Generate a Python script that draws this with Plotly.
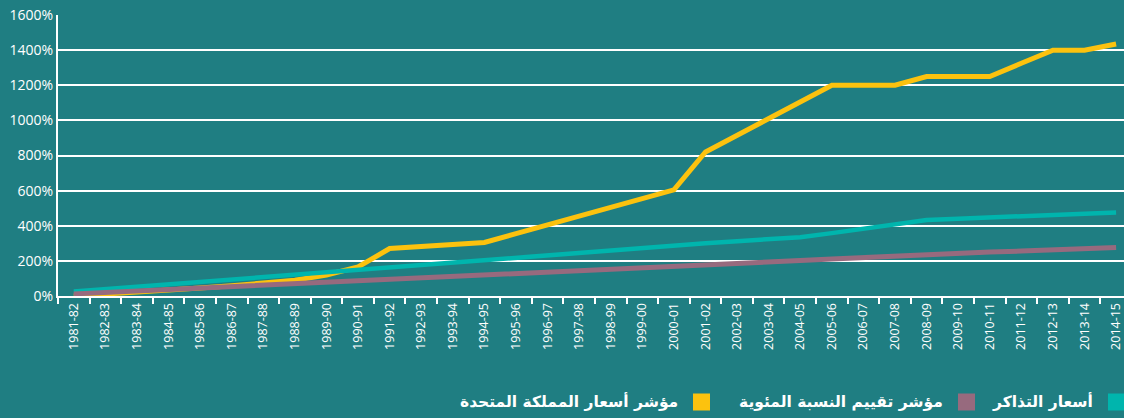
import plotly.graph_objects as go

# Financial years on the category axis
years = [
    "1981-82", "1982-83", "1983-84", "1984-85", "1985-86", "1986-87", "1987-88",
    "1988-89", "1989-90", "1990-91", "1991-92", "1992-93", "1993-94", "1994-95",
    "1995-96", "1996-97", "1997-98", "1998-99", "1999-00", "2000-01", "2001-02",
    "2002-03", "2003-04", "2004-05", "2005-06", "2006-07", "2007-08", "2008-09",
    "2009-10", "2010-11", "2011-12", "2012-13", "2013-14", "2014-15",
]

# Cumulative percentage change since 1981-82
ticket_prices = [
    25, 39, 53, 67, 80, 93, 106, 119, 133, 148, 163, 178, 192, 207,
    221, 235, 249, 262, 275, 288, 300, 312, 324, 335, 358, 383, 408,
    433, 440, 447, 454, 461, 468, 476,
]
rpi_index = [
    12, 20, 28, 36, 44, 52, 60, 69, 78, 86, 94, 102, 110, 118,
    126, 134, 142, 150, 160, 168, 176, 184, 193, 202, 211, 220, 230,
    237, 243, 250, 256, 263, 270, 276,
]
uk_price_index = [
    0, 10, 20, 32, 45, 58, 72, 90, 120, 165, 270, 282, 294, 305,
    355, 405, 455, 505, 555, 604, 820, 915, 1010, 1105, 1200, 1200, 1200,
    1250, 1250, 1250, 1325, 1400, 1400, 1435,
]

series_names = ["أسعار التذاكر", "مؤشر تقييم النسبة المئوية", "مؤشر أسعار المملكة المتحدة"]
series_colors = ["#00b5ad", "#976a7e", "#fcc20e"]
y_ticks = [0, 200, 400, 600, 800, 1000, 1200, 1400, 1600]
y_tick_labels = ["0%", "200%", "400%", "600%", "800%", "1000%", "1200%", "1400%", "1600%"]

BG = "#1f7e82"
W, H = 1124, 418
ML, MR, MT, MB = 58, 0, 15, 122

fig = go.Figure()
# yellow at the bottom, purple on top
for name, vals, color, width in [
    (series_names[2], uk_price_index, series_colors[2], 5),
    (series_names[0], ticket_prices, series_colors[0], 4.5),
    (series_names[1], rpi_index, series_colors[1], 5),
]:
    fig.add_trace(go.Scatter(
        x=years, y=vals, mode="lines", name=name,
        line=dict(color=color, width=width),
        showlegend=False,
    ))

fig.update_layout(
    width=W, height=H,
    margin=dict(l=ML, r=MR, t=MT, b=MB, pad=0),
    paper_bgcolor=BG, plot_bgcolor=BG,
    font=dict(family="Open Sans", color="white"),
)
fig.update_xaxes(
    type="category", categoryorder="array", categoryarray=years,
    range=[-0.5, 33.25],
    tickangle=-90, tickfont=dict(size=12.5, color="white"),
    ticks="outside", tickson="boundaries", ticklen=6, tickwidth=2, tickcolor="white",
    showline=True, linecolor="white", linewidth=2,
    showgrid=False, zeroline=False,
)
fig.update_yaxes(
    range=[0, 1600], tickmode="array", tickvals=y_ticks, ticktext=y_tick_labels,
    tickfont=dict(size=14, color="white"),
    showgrid=True, gridcolor="white", gridwidth=2,
    showline=True, linecolor="white", linewidth=2,
    zeroline=False, ticks="",
)

# Right-to-left legend: swatch on the right, label to its left
pw = W - ML - MR
ph = H - MT - MB


def px_x(x):
    return (x - ML) / pw


def px_y(y):
    return (H - MB - y) / ph


legend_swatch_right = [1125, 975, 710]
cy = 402
for name, color, sr in zip(series_names, series_colors, legend_swatch_right):
    fig.add_shape(
        type="rect", xref="paper", yref="paper",
        x0=px_x(sr - 17), x1=px_x(sr), y0=px_y(cy + 8.5), y1=px_y(cy - 8.5),
        fillcolor=color, line=dict(width=0),
    )
    fig.add_annotation(
        xref="paper", yref="paper", x=px_x(sr - 30), y=px_y(cy),
        xanchor="right", yanchor="middle", showarrow=False,
        text="<b>" + name + "</b>",
        font=dict(family="DejaVu Sans", size=15.5, color="white"),
    )

fig.write_html("out.html")
